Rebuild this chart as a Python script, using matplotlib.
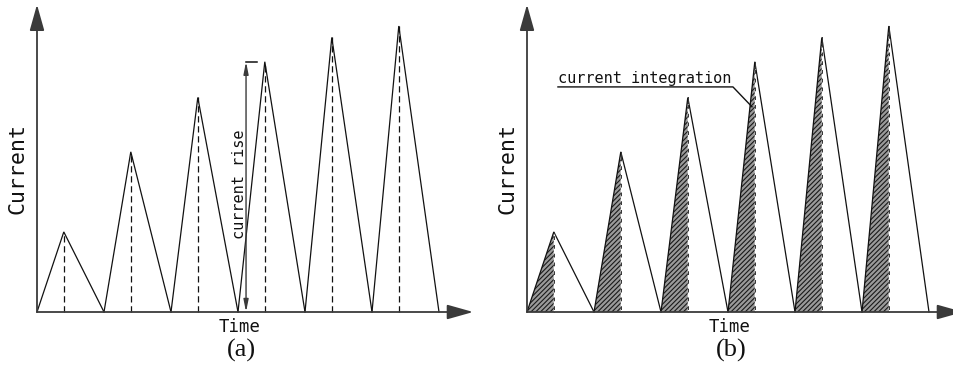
import matplotlib.pyplot as plt
import numpy as np

# sawtooth current pulses: rise time, fall time and peak current of each pulse
rise_time = 2.0
fall_time = 3.0
peak_current = [2.8, 5.6, 7.5, 8.75, 9.6, 10.0]
panel_labels = ["(a)", "(b)"]

start_times = np.arange(len(peak_current)) * (rise_time + fall_time)
peak_times = start_times + rise_time
end_times = peak_times + fall_time

cad_font = "DejaVu Sans Mono"
ink = "#111111"
axis_ink = "#3a3a3a"


def draw_axes(ax):
    ax.set_xlim(-37 / 13.4, 440 / 13.4)
    ax.set_ylim(-65 / 28.6, 312 / 28.6)
    ax.axis("off")
    arrow = dict(arrowstyle="-|>,head_length=1.6,head_width=0.45", color=axis_ink,
                 lw=1.3, shrinkA=0, shrinkB=0, mutation_scale=10)
    ax.annotate("", xy=(32.55, 0), xytext=(0, 0), arrowprops=arrow, annotation_clip=False)
    ax.annotate("", xy=(0, 10.75), xytext=(0, 0), arrowprops=arrow, annotation_clip=False)
    ax.text(-1.45, 5.03, "Current", rotation=90, ha="center", va="center",
            family=cad_font, fontsize=15.5, color=ink)
    ax.text(15.1, -0.52, "Time", ha="center", va="center",
            family=cad_font, fontsize=12.5, color=ink)


def draw_pulses(ax):
    for t0, tp, t1, ip in zip(start_times, peak_times, end_times, peak_current):
        ax.plot([t0, tp, t1], [0, ip, 0], color=ink, lw=0.9, solid_joinstyle="miter")


plt.rcParams["hatch.linewidth"] = 0.8

fig = plt.figure(figsize=(9.54, 3.77), dpi=100)
ax_a = fig.add_axes([0, 0, 477 / 954, 1])
ax_b = fig.add_axes([490 / 954, 0, 477 / 954, 1])

# (a) current rise
draw_axes(ax_a)
draw_pulses(ax_a)
for tp, ip in zip(peak_times, peak_current):
    ax_a.plot([tp, tp], [0, ip], color=ink, lw=0.9, linestyle=(0, (5, 3)))

x_dim = start_times[3] + 0.6
ax_a.annotate("", xy=(x_dim, peak_current[3]), xytext=(x_dim, 0),
              arrowprops=dict(arrowstyle="<|-|>,head_length=0.9,head_width=0.18",
                              color=axis_ink, lw=1.0, shrinkA=0, shrinkB=0,
                              mutation_scale=8))
ax_a.plot([x_dim, x_dim + 0.8], [peak_current[3], peak_current[3]], color=ink, lw=1.1)
ax_a.text(x_dim - 0.5, peak_current[3] * 0.51, "current rise", rotation=90,
          ha="center", va="center", family=cad_font, fontsize=11, color=ink)

# (b) integrated current during each rise
draw_axes(ax_b)
for t0, tp, ip in zip(start_times, peak_times, peak_current):
    ax_b.fill([t0, tp, tp], [0, ip, 0], facecolor="#9a9a9a", edgecolor="#1a1a1a",
              hatch="///////", lw=0)
draw_pulses(ax_b)
for tp, ip in zip(peak_times, peak_current):
    ax_b.plot([tp, tp], [0, ip], color="#333333", lw=0.7)
    ax_b.plot([tp, tp], [0, ip * 0.97], color="white", lw=0.9, linestyle=(2, (4, 3)))

ax_b.text(2.31, 8.02, "current integration", ha="left", va="baseline",
          family=cad_font, fontsize=11, color=ink)
x_lead = peak_times[3] - 0.21
ax_b.plot([2.31, 15.37, x_lead], [7.87, 7.87, peak_current[3] * 0.82], color=ink, lw=1.0)

for ax, label in zip([ax_a, ax_b], panel_labels):
    ax.text(15.25, -1.33, label, ha="center", va="center",
            family="Liberation Serif", fontsize=19, color=ink)

fig.savefig("out.png", dpi=100)
